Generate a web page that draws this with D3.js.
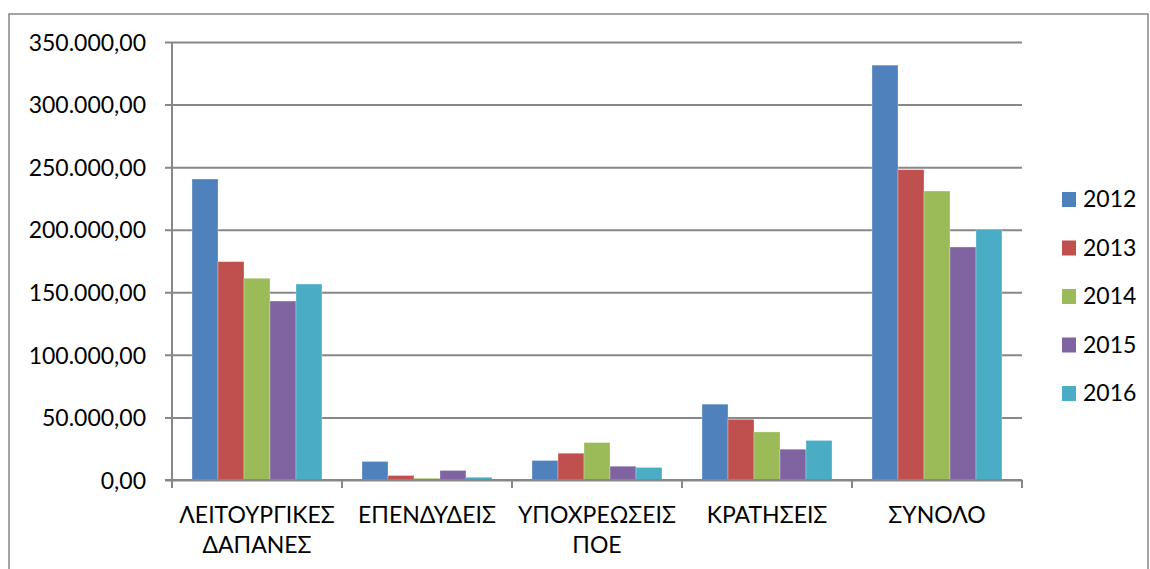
<!DOCTYPE html>
<html>
<head>
<meta charset="utf-8">
<script src="https://cdn.jsdelivr.net/npm/d3@7"></script>
<style>
  html, body { margin: 0; padding: 0; background: #fff; }
  svg { display: block; }
  text { font-family: Lato, 'Open Sans', 'DejaVu Sans', sans-serif; fill: #000; }
</style>
</head>
<body>
<svg id="chart"></svg>
<script>
(function (d3) {
  'use strict'
  // size of the page
  const W = 1150
  const H = 569

  // data
  const categories = [['ΛΕΙΤΟΥΡΓΙΚΕΣ', 'ΔΑΠΑΝΕΣ'], ['ΕΠΕΝΔΥΔΕΙΣ'], ['ΥΠΟΧΡΕΩΣΕΙΣ', 'ΠΟΕ'], ['ΚΡΑΤΗΣΕΙΣ'], ['ΣΥΝΟΛΟ']]
  const years = ['2012', '2013', '2014', '2015', '2016']
  const v2012 = [240500, 14800, 15600, 60600, 331500]
  const v2013 = [174500, 3600, 21400, 48500, 248000]
  const v2014 = [161200, 1400, 29900, 38400, 230900]
  const v2015 = [143000, 7600, 11000, 24600, 186200]
  const v2016 = [156600, 2200, 10000, 31600, 200400]
  const series = [v2012, v2013, v2014, v2015, v2016]
  const yTicks = [0, 50000, 100000, 150000, 200000, 250000, 300000, 350000]
  const colors = ['#4F81BD', '#C0504D', '#9BBB59', '#8064A2', '#4BACC6']

  const gridColor = '#878787'

  const grLocale = d3.formatLocale({ decimal: ',', thousands: '.', grouping: [3], currency: ['', '€'] })
  const fmt = grLocale.format(',.2f')

  const svg = d3.select('#chart').attr('width', W).attr('height', H)

  // outer frame of the chart
  svg.append('rect')
    .attr('x', 9).attr('y', 14)
    .attr('width', 1139).attr('height', 600)
    .attr('fill', 'none')
    .attr('stroke', gridColor)
    .attr('stroke-width', 1.5)

  const plot = { left: 172, right: 1022, top: 42, bottom: 480 }

  const x = d3.scaleBand()
    .domain(d3.range(categories.length))
    .range([plot.left, plot.right])
    .paddingInner(0).paddingOuter(0)

  const xs = d3.scaleBand()
    .domain(years)
    .range([0, x.bandwidth()])
    .paddingInner(0).paddingOuter(0.77)

  const y = d3.scaleLinear()
    .domain([0, 350000])
    .range([plot.bottom, plot.top])

  // gridlines + y axis
  const yAxis = d3.axisLeft(y)
    .tickValues(yTicks)
    .tickSize(-(plot.right - plot.left))
    .tickSizeOuter(0)
    .tickPadding(26)
    .tickFormat(fmt)

  const gy = svg.append('g')
    .attr('transform', 'translate(' + plot.left + ',0)')
    .call(yAxis)
  gy.select('.domain').remove()
  gy.selectAll('.tick line')
    .attr('x1', -7)
    .attr('stroke', gridColor)
    .attr('stroke-width', 2)
  gy.selectAll('.tick text')
    .attr('font-size', 23)
    .attr('dy', '0.36em')
    .style('font-family', "Lato, 'Open Sans', sans-serif")

  // vertical axis line
  svg.append('line')
    .attr('x1', plot.left).attr('x2', plot.left)
    .attr('y1', plot.top).attr('y2', plot.bottom + 8)
    .attr('stroke', gridColor).attr('stroke-width', 2)

  // bars
  const groups = svg.append('g').selectAll('g')
    .data(categories.map((c, i) => i))
    .enter().append('g')
    .attr('transform', i => 'translate(' + x(i) + ',0)')

  groups.selectAll('rect')
    .data(i => years.map((yr, k) => ({ yr: yr, k: k, v: series[k][i] })))
    .enter().append('rect')
    .attr('x', d => xs(d.yr))
    .attr('width', xs.bandwidth())
    .attr('y', d => y(d.v))
    .attr('height', d => y(0) - y(d.v))
    .attr('fill', d => colors[d.k])
    .attr('stroke', 'rgba(255,255,255,0.35)')
    .attr('stroke-width', 0.8)

  // x axis
  svg.append('line')
    .attr('x1', plot.left - 7).attr('x2', plot.right)
    .attr('y1', plot.bottom).attr('y2', plot.bottom)
    .attr('stroke', gridColor).attr('stroke-width', 2)

  svg.append('g').selectAll('line')
    .data(d3.range(categories.length + 1))
    .enter().append('line')
    .attr('x1', i => plot.left + i * x.step())
    .attr('x2', i => plot.left + i * x.step())
    .attr('y1', plot.bottom).attr('y2', plot.bottom + 8)
    .attr('stroke', gridColor).attr('stroke-width', 2)

  const labels = svg.append('g').selectAll('text')
    .data(categories)
    .enter().append('text')
    .attr('x', (c, i) => x(i) + x.bandwidth() / 2)
    .attr('y', 523)
    .attr('text-anchor', 'middle')
    .attr('font-size', 23)
  labels.selectAll('tspan')
    .data(c => c)
    .enter().append('tspan')
    .attr('x', function () { return this.parentNode.getAttribute('x') })
    .attr('dy', (t, j) => j === 0 ? 0 : 30)
    .text(t => t)

  // legend
  const legend = svg.append('g').selectAll('g')
    .data(years)
    .enter().append('g')
    .attr('transform', (yr, k) => 'translate(1062,' + (192 + k * 48.5) + ')')
  legend.append('rect')
    .attr('width', 14).attr('height', 15)
    .attr('fill', (yr, k) => colors[k])
  legend.append('text')
    .attr('x', 21).attr('y', 15)
    .attr('font-size', 23)
    .text(yr => yr)

}(d3))
</script>
</body>
</html>
